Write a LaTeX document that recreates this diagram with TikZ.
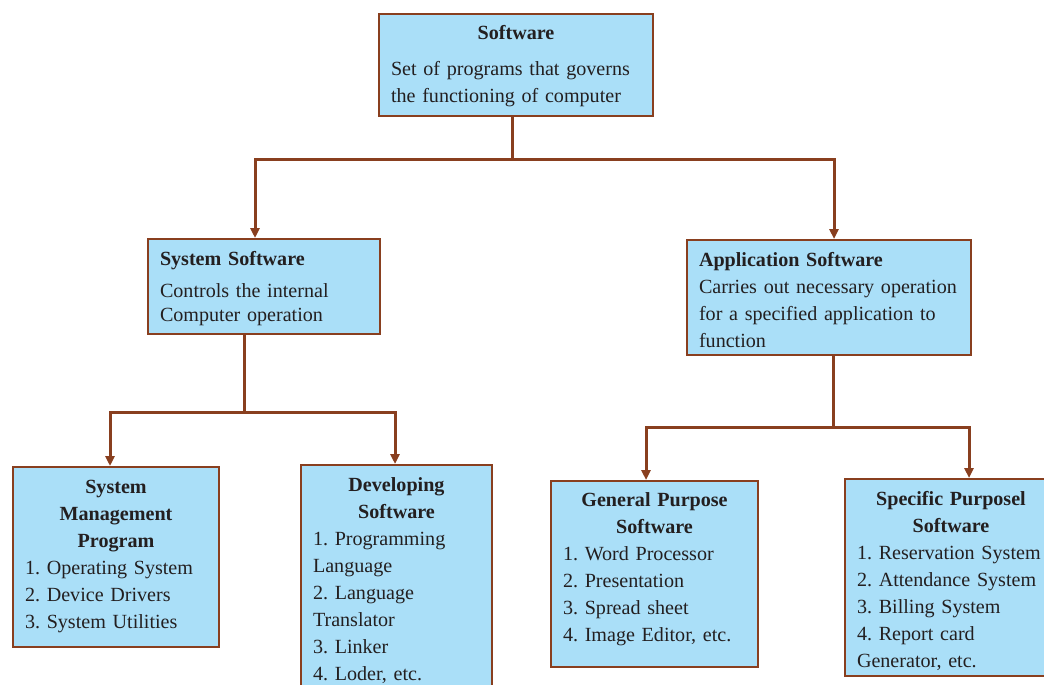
\documentclass[tikz,border=0pt]{standalone}
\usepackage{fontspec}
\setmainfont{Liberation Serif}
\usetikzlibrary{arrows.meta}
\definecolor{boxblue}{RGB}{170,223,248}
\definecolor{linebrown}{RGB}{137,63,31}
\definecolor{inkgray}{RGB}{35,31,32}
\frenchspacing
\hyphenpenalty=10000
\exhyphenpenalty=10000

\begin{document}
\begin{tikzpicture}[x=1pt, y=-1pt, >={Triangle[length=10pt,width=9pt]},
    box/.style={draw=linebrown, line width=2pt, fill=boxblue, anchor=north west,
        inner xsep=12pt, inner ysep=0pt, text height=26pt, align=left, text=inkgray,
        font=\fontsize{20.1}{27}\selectfont},
    link/.style={draw=linebrown, line width=3pt}]
    \useasboundingbox (0,0) rectangle (1044,685);

    % Top level
    \node[box, text width=250pt, text depth=76pt] (soft) at (378,13)
        {{\centering\bfseries Software\par}\vspace{9pt}Set of programs that governs\\the functioning of computer};

    % Second level
    \node[box, text width=208pt, text depth=69pt, font=\fontsize{20.1}{24.5}\selectfont] (sys) at (147,238)
        {\textbf{System Software}\par\vspace{7.5pt}Controls the internal\\Computer operation};
    \node[box, text width=260pt, text depth=89pt] (app) at (686,239)
        {\textbf{Application Software}\\Carries out necessary operation\\for a specified application to\\function};

    % Third level
    \node[box, text width=182pt, text depth=154pt] (smp) at (12,466)
        {{\centering\bfseries System\\Management\\Program\par}1. Operating System\\2. Device Drivers\\3. System Utilities};
    \node[box, text width=167pt, text depth=240pt] (dev) at (300,464)
        {{\centering\bfseries Developing\\Software\par}1. Programming\\Language\\2. Language\\Translator\\3. Linker\\4. Loder, etc.};
    \node[box, text width=183pt, text height=25pt, text depth=161pt] (gp) at (550,480)
        {{\centering\bfseries General Purpose\\Software\par}1. Word Processor\\2. Presentation\\3. Spread sheet\\4. Image Editor, etc.};
    \node[box, text width=188pt, text depth=171pt] (spec) at (844,478)
        {{\centering\bfseries Specific Purposel\\Software\par}1. Reservation System\\2. Attendance System\\3. Billing System\\4. Report card\\Generator, etc.};

    % Software branches
    \draw[link] ([xshift=-4pt]soft.south) -- ++(0,42) coordinate (bus1);
    \draw[link,->] (bus1) -| ([xshift=-9pt]sys.north);
    \draw[link,->] (bus1) -| ([xshift=5pt]app.north);

    % System software branches
    \draw[link] ([xshift=-20pt]sys.south) -- ++(0,77) coordinate (bus2);
    \draw[link,->] (bus2) -| ([xshift=-6pt]smp.north);
    \draw[link,->] (bus2) -| ([xshift=-1.5pt]dev.north);

    % Application software branches
    \draw[link] ([xshift=4pt]app.south) -- ++(0,71) coordinate (bus3);
    \draw[link,->] (bus3) -| ([xshift=-8.5pt]gp.north);
    \draw[link,->] (bus3) -| ([xshift=18pt]spec.north);
\end{tikzpicture}
\end{document}
